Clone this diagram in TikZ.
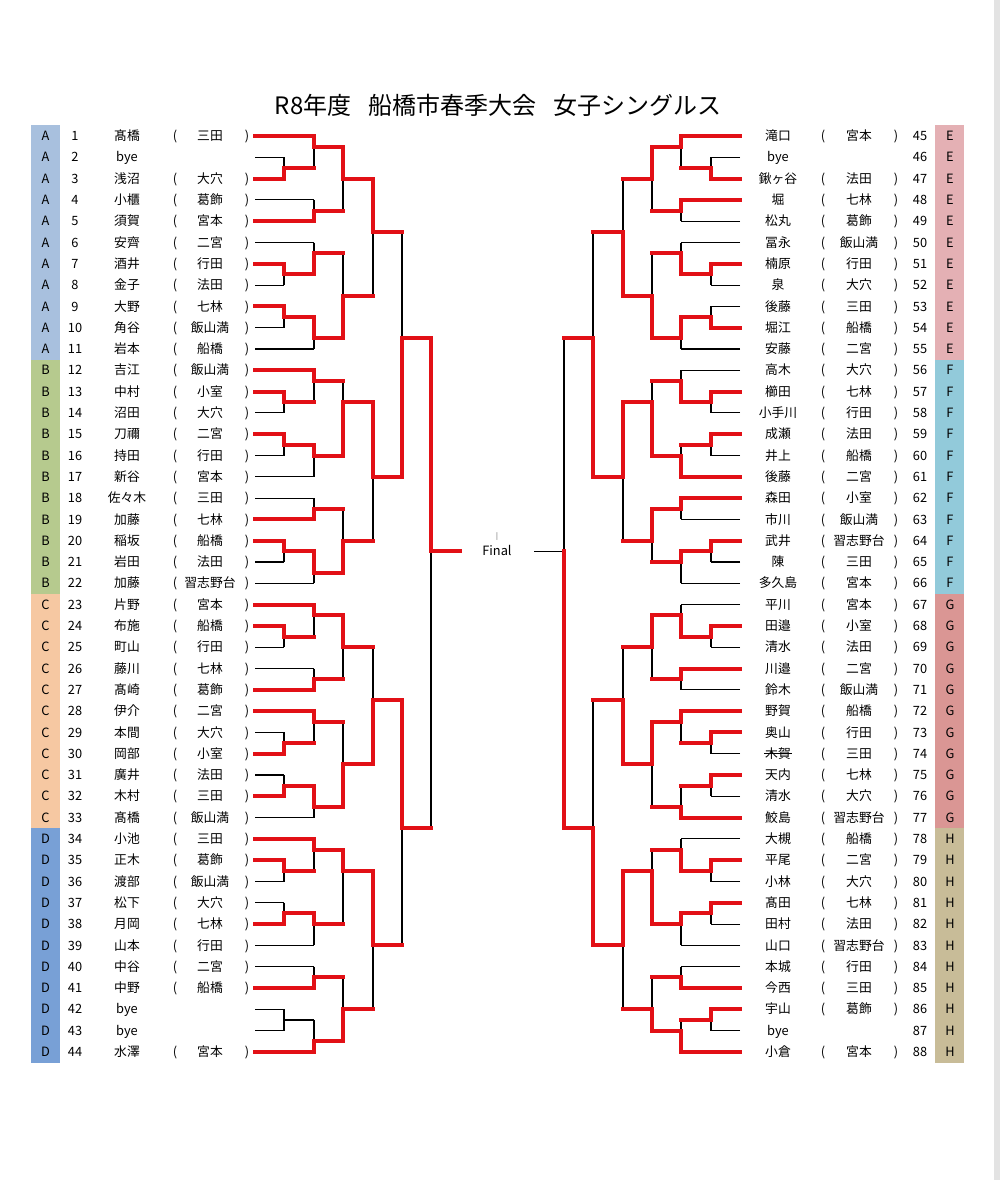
\documentclass[tikz,border=0pt]{standalone}
\usepackage{fontspec}
\newfontfamily\jp{Noto Sans CJK JP}
\pgfdeclarelayer{back}
\pgfdeclarelayer{bg}
\pgfsetlayers{back,bg,main}
\definecolor{wred}{RGB}{226,16,22}
\definecolor{cA}{RGB}{168,192,222}
\definecolor{cB}{RGB}{182,202,142}
\definecolor{cC}{RGB}{246,200,162}
\definecolor{cD}{RGB}{120,160,214}
\definecolor{cE}{RGB}{228,176,180}
\definecolor{cF}{RGB}{146,202,218}
\definecolor{cG}{RGB}{218,150,148}
\definecolor{cH}{RGB}{200,188,152}
\newcommand\Y[1]{(136+10.65*(#1))}
% left levels
\def\LS{255}\def\La{284}\def\Lb{314}\def\Lc{343}\def\Ld{373}\def\Le{402}\def\Lf{431}
% right levels
\def\RS{740}\def\Ra{711}\def\Rb{681}\def\Rc{652}\def\Rd{623}\def\Re{593}\def\Rf{564}
% match: #1 x, #2 top h, #3 bottom h, #4 out h, #5 winner h, #6 next x
\newcommand\match[6]{%
  \begin{pgfonlayer}{bg}\draw[lose] (#1,{\Y{#2}}) -- (#1,{\Y{#3}});\end{pgfonlayer}
  \draw[win] (#1,{\Y{#5}}) -- (#1,{\Y{#4}}) -- (#6,{\Y{#4}});}
\newcommand\pw[2]{\draw[win] (p#1) -- ++(#2,0);}
\newcommand\pb[2]{\begin{pgfonlayer}{bg}\draw[lose] (p#1) -- ++(#2,0);\end{pgfonlayer}}
\begin{document}
\begin{tikzpicture}[x=1pt,y=-1pt,
  txt/.style={font=\jp\fontsize{12.8}{15}\selectfont, inner sep=0pt, anchor=base},
  win/.style={draw=wred, line width=4pt, line cap=rect},
  lose/.style={draw=black, line width=1.1pt}]
\useasboundingbox (0,0) rectangle (1000,1180);
\begin{pgfonlayer}{back}
\fill[white] (0,0) rectangle (1000,1180);
\fill[gray!22] (994,0) rectangle (1000,1180);
% colour bands
\fill[cA] (31,{\Y{-1}}) rectangle (60,{\Y{21}});
\fill[cB] (31,{\Y{21}}) rectangle (60,{\Y{43}});
\fill[cC] (31,{\Y{43}}) rectangle (60,{\Y{65}});
\fill[cD] (31,{\Y{65}}) rectangle (60,{\Y{87}});
\fill[cE] (935,{\Y{-1}}) rectangle (964,{\Y{21}});
\fill[cF] (935,{\Y{21}}) rectangle (964,{\Y{43}});
\fill[cG] (935,{\Y{43}}) rectangle (964,{\Y{65}});
\fill[cH] (935,{\Y{65}}) rectangle (964,{\Y{87}});
\end{pgfonlayer}

\node[font=\jp\fontsize{24}{28}\selectfont, inner sep=0pt, anchor=base] (title) at (498,115)
  {R8年度\hspace{0.7em}船橋市春季大会\hspace{0.7em}女子シングルス};

% left rows
\foreach \n/\nm/\sc/\g [count=\i from 0] in {1/髙橋/三田/A, 2/bye//A, 3/浅沼/大穴/A, 4/小櫃/葛飾/A, 5/須賀/宮本/A, 6/安齊/二宮/A, 7/酒井/行田/A, 8/金子/法田/A, 9/大野/七林/A, 10/角谷/飯山満/A, 11/岩本/船橋/A, 12/吉江/飯山満/B, 13/中村/小室/B, 14/沼田/大穴/B, 15/刀禰/二宮/B, 16/持田/行田/B, 17/新谷/宮本/B, 18/佐々木/三田/B, 19/加藤/七林/B, 20/稲坂/船橋/B, 21/岩田/法田/B, 22/加藤/習志野台/B, 23/片野/宮本/C, 24/布施/船橋/C, 25/町山/行田/C, 26/藤川/七林/C, 27/髙崎/葛飾/C, 28/伊介/二宮/C, 29/本間/大穴/C, 30/岡部/小室/C, 31/廣井/法田/C, 32/木村/三田/C, 33/髙橋/飯山満/C, 34/小池/三田/D, 35/正木/葛飾/D, 36/渡部/飯山満/D, 37/松下/大穴/D, 38/月岡/七林/D, 39/山本/行田/D, 40/中谷/二宮/D, 41/中野/船橋/D, 42/bye//D, 43/bye//D, 44/水澤/宮本/D}{
  \node[txt] (lt\n) at (45.5,{\Y{2*\i}+4.6}) {\g};
  \node[txt] (no\n) at (75,{\Y{2*\i}+4.6}) {\n};
  \node[txt] (nm\n) at (127,{\Y{2*\i}+4.6}) {\nm};
  \if\relax\detokenize\expandafter{\sc}\relax\else
    \node[txt] (lp\n) at (175,{\Y{2*\i}+4.6}) {(};
    \node[txt] (sc\n) at (210,{\Y{2*\i}+4.6}) {\sc};
    \node[txt] (rp\n) at (247,{\Y{2*\i}+4.6}) {)};
  \fi
  \coordinate (p\n) at (\LS,{\Y{2*\i}});
}

% right rows
\foreach \n/\nm/\sc/\g [count=\i from 0] in {45/滝口/宮本/E, 46/bye//E, 47/鍬ヶ谷/法田/E, 48/堀/七林/E, 49/松丸/葛飾/E, 50/冨永/飯山満/E, 51/楠原/行田/E, 52/泉/大穴/E, 53/後藤/三田/E, 54/堀江/船橋/E, 55/安藤/二宮/E, 56/高木/大穴/F, 57/櫛田/七林/F, 58/小手川/行田/F, 59/成瀬/法田/F, 60/井上/船橋/F, 61/後藤/二宮/F, 62/森田/小室/F, 63/市川/飯山満/F, 64/武井/習志野台/F, 65/陳/三田/F, 66/多久島/宮本/F, 67/平川/宮本/G, 68/田邉/小室/G, 69/清水/法田/G, 70/川邉/二宮/G, 71/鈴木/飯山満/G, 72/野賀/船橋/G, 73/奥山/行田/G, 74/木賀/三田/G, 75/天内/七林/G, 76/清水/大穴/G, 77/鮫島/習志野台/G, 78/大槻/船橋/H, 79/平尾/二宮/H, 80/小林/大穴/H, 81/髙田/七林/H, 82/田村/法田/H, 83/山口/習志野台/H, 84/本城/行田/H, 85/今西/三田/H, 86/宇山/葛飾/H, 87/bye//H, 88/小倉/宮本/H}{
  \node[txt] (lt\n) at (950,{\Y{2*\i}+4.6}) {\g};
  \node[txt] (no\n) at (920,{\Y{2*\i}+4.6}) {\n};
  \node[txt] (nm\n) at (778,{\Y{2*\i}+4.6}) {\nm};
  \if\relax\detokenize\expandafter{\sc}\relax\else
    \node[txt] (lp\n) at (823,{\Y{2*\i}+4.6}) {(};
    \node[txt] (sc\n) at (859,{\Y{2*\i}+4.6}) {\sc};
    \node[txt] (rp\n) at (896,{\Y{2*\i}+4.6}) {)};
  \fi
  \coordinate (p\n) at (\RS,{\Y{2*\i}});
}
% strike-through
\draw[line width=0.8pt] ([xshift=-1pt]nm74.west) -- ([xshift=1pt]nm74.east);

% ===== LEFT: player lines =====
\pw{1}{59}\pb{2}{29}\pw{3}{29}\pb{4}{59}\pw{5}{59}\pb{6}{59}\pw{7}{29}\pb{8}{29}\pw{9}{29}\pb{10}{29}\pb{11}{59}
\pw{12}{59}\pw{13}{29}\pb{14}{29}\pw{15}{29}\pb{16}{29}\pb{17}{59}\pb{18}{59}\pw{19}{59}\pw{20}{29}\pb{21}{29}\pb{22}{59}
\pw{23}{59}\pw{24}{29}\pb{25}{29}\pb{26}{59}\pw{27}{59}\pw{28}{59}\pb{29}{29}\pw{30}{29}\pb{31}{29}\pw{32}{29}\pb{33}{59}
\pw{34}{59}\pw{35}{29}\pb{36}{29}\pb{37}{29}\pw{38}{29}\pb{39}{59}\pb{40}{59}\pw{41}{59}\pb{42}{29}\pb{43}{29}\pw{44}{59}

% A
\match{\La}{2}{4}{3}{4}{\Lb}
\match{\Lb}{0}{3}{1}{0}{\Lc}
\match{\Lb}{6}{8}{7}{8}{\Lc}
\match{\Lc}{1}{7}{4}{1}{\Ld}
\match{\La}{12}{14}{13}{12}{\Lb}
\match{\Lb}{10}{13}{11}{13}{\Lc}
\match{\La}{16}{18}{17}{16}{\Lb}
\match{\Lb}{17}{20}{19}{17}{\Lc}
\match{\Lc}{11}{19}{15}{19}{\Ld}
\match{\Ld}{4}{15}{9}{4}{\Le}
% B
\match{\La}{24}{26}{25}{24}{\Lb}
\match{\Lb}{22}{25}{23}{22}{\Lc}
\match{\La}{28}{30}{29}{28}{\Lb}
\match{\Lb}{29}{32}{30}{29}{\Lc}
\match{\Lc}{23}{30}{25}{30}{\Ld}
\match{\Lb}{34}{36}{35}{36}{\Lc}
\match{\La}{38}{40}{39}{38}{\Lb}
\match{\Lb}{39}{42}{41}{39}{\Lc}
\match{\Lc}{35}{41}{38}{41}{\Ld}
\match{\Ld}{25}{38}{32}{25}{\Le}
\match{\Le}{9}{32}{19}{32}{\Lf}
% C
\match{\La}{46}{48}{47}{46}{\Lb}
\match{\Lb}{44}{47}{45}{44}{\Lc}
\match{\Lb}{50}{52}{51}{52}{\Lc}
\match{\Lc}{45}{51}{48}{45}{\Ld}
\match{\La}{56}{58}{57}{58}{\Lb}
\match{\Lb}{54}{57}{55}{54}{\Lc}
\match{\La}{60}{62}{61}{62}{\Lb}
\match{\Lb}{61}{64}{63}{61}{\Lc}
\match{\Lc}{55}{63}{59}{63}{\Ld}
\match{\Ld}{48}{59}{53}{59}{\Le}
% D
\match{\La}{68}{70}{69}{68}{\Lb}
\match{\Lb}{66}{69}{67}{66}{\Lc}
\match{\La}{72}{74}{73}{74}{\Lb}
\match{\Lb}{73}{76}{74}{73}{\Lc}
\match{\Lc}{67}{74}{69}{67}{\Ld}
\match{\Lb}{78}{80}{79}{80}{\Lc}
\begin{pgfonlayer}{bg}
  \draw[lose] (\La,{\Y{82}}) -- (\La,{\Y{84}});
  \draw[lose] (\La,{\Y{83}}) -- (\Lb,{\Y{83}});
\end{pgfonlayer}
\match{\Lb}{83}{86}{85}{86}{\Lc}
\match{\Lc}{79}{85}{82}{85}{\Ld}
\match{\Ld}{69}{82}{76}{69}{\Le}
\match{\Le}{53}{76}{65}{53}{\Lf}
% left semifinal
\coordinate (fl) at (460,{\Y{39}});
\match{\Lf}{19}{65}{39}{19}{460}

% ===== RIGHT: player lines =====
\pw{45}{-59}\pb{46}{-29}\pw{47}{-29}\pw{48}{-59}\pb{49}{-59}\pb{50}{-59}\pw{51}{-29}\pb{52}{-29}\pb{53}{-29}\pw{54}{-29}\pb{55}{-59}
\pb{56}{-59}\pw{57}{-29}\pb{58}{-29}\pw{59}{-29}\pb{60}{-29}\pw{61}{-59}\pw{62}{-59}\pb{63}{-59}\pw{64}{-29}\pb{65}{-29}\pb{66}{-59}
\pb{67}{-59}\pw{68}{-29}\pb{69}{-29}\pw{70}{-59}\pb{71}{-59}\pw{72}{-59}\pw{73}{-29}\pb{74}{-29}\pw{75}{-29}\pb{76}{-29}\pw{77}{-59}
\pb{78}{-59}\pw{79}{-29}\pb{80}{-29}\pw{81}{-29}\pb{82}{-29}\pb{83}{-59}\pb{84}{-59}\pw{85}{-59}\pw{86}{-29}\pb{87}{-29}\pw{88}{-59}

% E
\match{\Ra}{2}{4}{3}{4}{\Rb}
\match{\Rb}{0}{3}{1}{0}{\Rc}
\match{\Rb}{6}{8}{7}{6}{\Rc}
\match{\Rc}{1}{7}{4}{1}{\Rd}
\match{\Ra}{12}{14}{13}{12}{\Rb}
\match{\Rb}{10}{13}{11}{13}{\Rc}
\match{\Ra}{16}{18}{17}{18}{\Rb}
\match{\Rb}{17}{20}{19}{17}{\Rc}
\match{\Rc}{11}{19}{15}{19}{\Rd}
\match{\Rd}{4}{15}{9}{15}{\Re}
% F
\match{\Ra}{24}{26}{25}{24}{\Rb}
\match{\Rb}{22}{25}{23}{25}{\Rc}
\match{\Ra}{28}{30}{29}{28}{\Rb}
\match{\Rb}{29}{32}{30}{32}{\Rc}
\match{\Rc}{23}{30}{25}{30}{\Rd}
\match{\Rb}{34}{36}{35}{34}{\Rc}
\match{\Ra}{38}{40}{39}{38}{\Rb}
\match{\Rb}{39}{42}{40}{39}{\Rc}
\match{\Rc}{35}{40}{38}{35}{\Rd}
\match{\Rd}{25}{38}{32}{25}{\Re}
\match{\Re}{9}{32}{19}{32}{\Rf}
% G
\match{\Ra}{46}{48}{47}{46}{\Rb}
\match{\Rb}{44}{47}{45}{47}{\Rc}
\match{\Rb}{50}{52}{51}{50}{\Rc}
\match{\Rc}{45}{51}{48}{45}{\Rd}
\match{\Ra}{56}{58}{57}{56}{\Rb}
\match{\Rb}{54}{57}{55}{54}{\Rc}
\match{\Ra}{60}{62}{61}{60}{\Rb}
\match{\Rb}{61}{64}{63}{64}{\Rc}
\match{\Rc}{55}{63}{59}{55}{\Rd}
\match{\Rd}{48}{59}{53}{59}{\Re}
% H
\match{\Ra}{68}{70}{69}{68}{\Rb}
\match{\Rb}{66}{69}{67}{69}{\Rc}
\match{\Ra}{72}{74}{73}{72}{\Rb}
\match{\Rb}{73}{76}{74}{73}{\Rc}
\match{\Rc}{67}{74}{69}{74}{\Rd}
\match{\Rb}{78}{80}{79}{80}{\Rc}
\match{\Ra}{82}{84}{83}{82}{\Rb}
\match{\Rb}{83}{86}{84}{86}{\Rc}
\match{\Rc}{79}{84}{82}{84}{\Rd}
\match{\Rd}{69}{82}{76}{69}{\Re}
\match{\Re}{53}{76}{65}{76}{\Rf}
% right semifinal
\coordinate (fr) at (534,{\Y{39}});
\begin{pgfonlayer}{bg}
  \draw[lose] (\Rf,{\Y{19}}) -- (\Rf,{\Y{65}});
  \draw[lose] (\Rf,{\Y{39}}) -- (fr);
\end{pgfonlayer}
\draw[win] (\Rf,{\Y{65}}) -- (\Rf,{\Y{39}});

% Final
\node[txt] (final) at (497,{\Y{39}+4.6}) {Final};
\node[font=\jp\fontsize{7}{8}\selectfont, inner sep=0pt, text=black!70] (tick) at (497,537) {|};
\end{tikzpicture}
\end{document}
